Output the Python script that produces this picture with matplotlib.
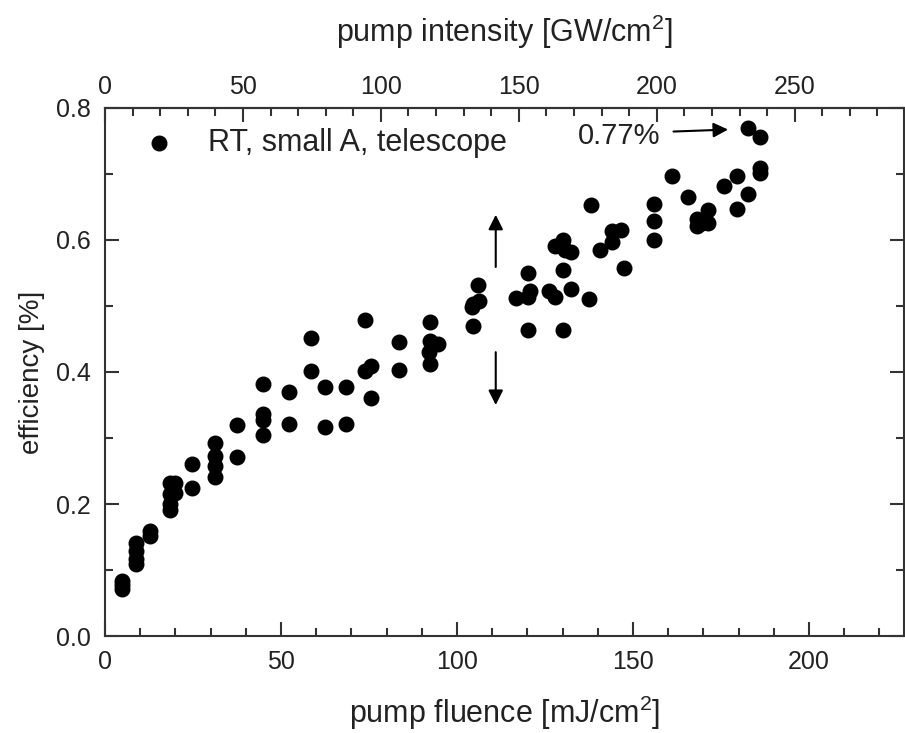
import matplotlib
matplotlib.use('Agg')
import matplotlib.pyplot as plt
from matplotlib.ticker import MultipleLocator, FixedLocator

plt.rcParams['font.family'] = ['Liberation Sans', 'DejaVu Sans']
plt.rcParams['mathtext.default'] = 'regular'

# efficiency vs. pump fluence
fluence = [4.7, 4.7, 4.7,
           8.8, 8.8, 8.8, 8.8,
           12.8, 12.8,
           18.5, 18.5, 18.5, 18.5, 20.0, 20.0,
           24.7, 24.7,
           31.3, 31.3, 31.3, 31.3,
           37.5, 37.5,
           44.8, 44.8, 44.8, 44.8,
           52.2, 52.2,
           58.6, 58.6,
           62.4, 62.4,
           68.4, 68.4,
           73.8, 73.8, 75.5, 75.5,
           83.6, 83.6,
           92.4, 92.4, 94.5, 92.0, 92.4,
           104.4, 104.2, 104.4, 106.3, 106.0,
           116.8, 120.1, 120.6, 120.1, 120.1,
           126.1, 127.7,
           127.7, 130.1, 130.6, 132.5, 130.1, 132.3, 130.1,
           137.5, 138.2, 140.5,
           143.9, 143.9, 146.7, 147.5,
           156.0, 156.0, 156.0,
           161.1, 165.7,
           168.1, 168.1, 171.4, 171.4, 169.5,
           175.9, 179.5, 179.5, 182.8, 182.8,
           186.1, 186.1, 186.1]
efficiency = [0.083, 0.077, 0.071,
              0.141, 0.129, 0.117, 0.109,
              0.160, 0.151,
              0.232, 0.216, 0.200, 0.191, 0.232, 0.217,
              0.260, 0.225,
              0.293, 0.273, 0.258, 0.241,
              0.320, 0.271,
              0.382, 0.337, 0.328, 0.305,
              0.369, 0.322,
              0.451, 0.402,
              0.378, 0.316,
              0.377, 0.322,
              0.478, 0.402, 0.409, 0.360,
              0.445, 0.403,
              0.476, 0.447, 0.443, 0.431, 0.412,
              0.503, 0.498, 0.470, 0.507, 0.531,
              0.512, 0.514, 0.522, 0.550, 0.464,
              0.523, 0.514,
              0.590, 0.600, 0.585, 0.582, 0.555, 0.526, 0.463,
              0.510, 0.653, 0.585,
              0.614, 0.597, 0.615, 0.558,
              0.655, 0.628, 0.600,
              0.697, 0.665,
              0.631, 0.621, 0.645, 0.625, 0.625,
              0.682, 0.697, 0.646, 0.669, 0.769,
              0.755, 0.709, 0.701]

# pump intensity [GW/cm2] per fluence [mJ/cm2]
k = 1.276
top_ticks = [0, 50, 100, 150, 200, 250]
top_minor = list(range(0, 290, 10))

txt = '#222222'
edge = '#333333'

fig = plt.figure(figsize=(9.05, 7.33), dpi=100)
ax = fig.add_axes([0.116, 0.132, 0.883, 0.721])

ax.scatter(fluence, efficiency, s=110, color='black', zorder=3,
           label='RT, small A, telescope')

ax.set_xlim(0, 227)
ax.set_ylim(0, 0.8)
ax.xaxis.set_major_locator(MultipleLocator(50))
ax.xaxis.set_minor_locator(MultipleLocator(10))
ax.yaxis.set_major_locator(MultipleLocator(0.2))
ax.yaxis.set_minor_locator(MultipleLocator(0.1))
ax.yaxis.set_major_formatter(plt.FuncFormatter(lambda v, p: '%.1f' % v))

for s in ax.spines.values():
    s.set_linewidth(1.5)
    s.set_color(edge)
ax.tick_params(which='both', direction='in', width=1.5, color=edge,
               labelsize=18, labelcolor=txt, top=False, right=True)
ax.tick_params(which='major', length=10, pad=10)
ax.tick_params(which='minor', length=6)

ax.set_xlabel('pump fluence [mJ/cm$^2$]', fontsize=22, color=txt, labelpad=14)
ax.set_ylabel('efficiency [%]', fontsize=20, color=txt, labelpad=8)

top = ax.secondary_xaxis('top', functions=(lambda x: x * k, lambda x: x / k))
top.xaxis.set_major_locator(FixedLocator(top_ticks))
top.xaxis.set_minor_locator(FixedLocator(top_minor))
top.tick_params(which='both', direction='in', width=1.5, color=edge,
                labelsize=18, labelcolor=txt)
top.tick_params(which='major', length=10, pad=6)
top.tick_params(which='minor', length=6)
top.set_xlabel('pump intensity [GW/cm$^2$]', fontsize=22, color=txt, labelpad=24)
top.spines['top'].set_linewidth(1.5)
top.spines['top'].set_color(edge)

ax.legend(loc='upper left', bbox_to_anchor=(0.005, 1.0), frameon=False,
          fontsize=22, handletextpad=0.6, borderaxespad=0.25,
          labelcolor=txt)

ax.text(146, 0.757, '0.77%', fontsize=21, color=txt, ha='center', va='center')
ax.annotate('', xy=(177, 0.767), xytext=(161.5, 0.764),
            arrowprops=dict(arrowstyle='-|>', color='black', lw=1.5,
                            mutation_scale=22, shrinkA=0, shrinkB=0))

ax.annotate('', xy=(111, 0.638), xytext=(111, 0.559),
            arrowprops=dict(arrowstyle='-|>', color='black', lw=1.5,
                            mutation_scale=22, shrinkA=0, shrinkB=0))
ax.annotate('', xy=(111, 0.35), xytext=(111, 0.43),
            arrowprops=dict(arrowstyle='-|>', color='black', lw=1.5,
                            mutation_scale=22, shrinkA=0, shrinkB=0))

fig.savefig('out.png', dpi=100)
